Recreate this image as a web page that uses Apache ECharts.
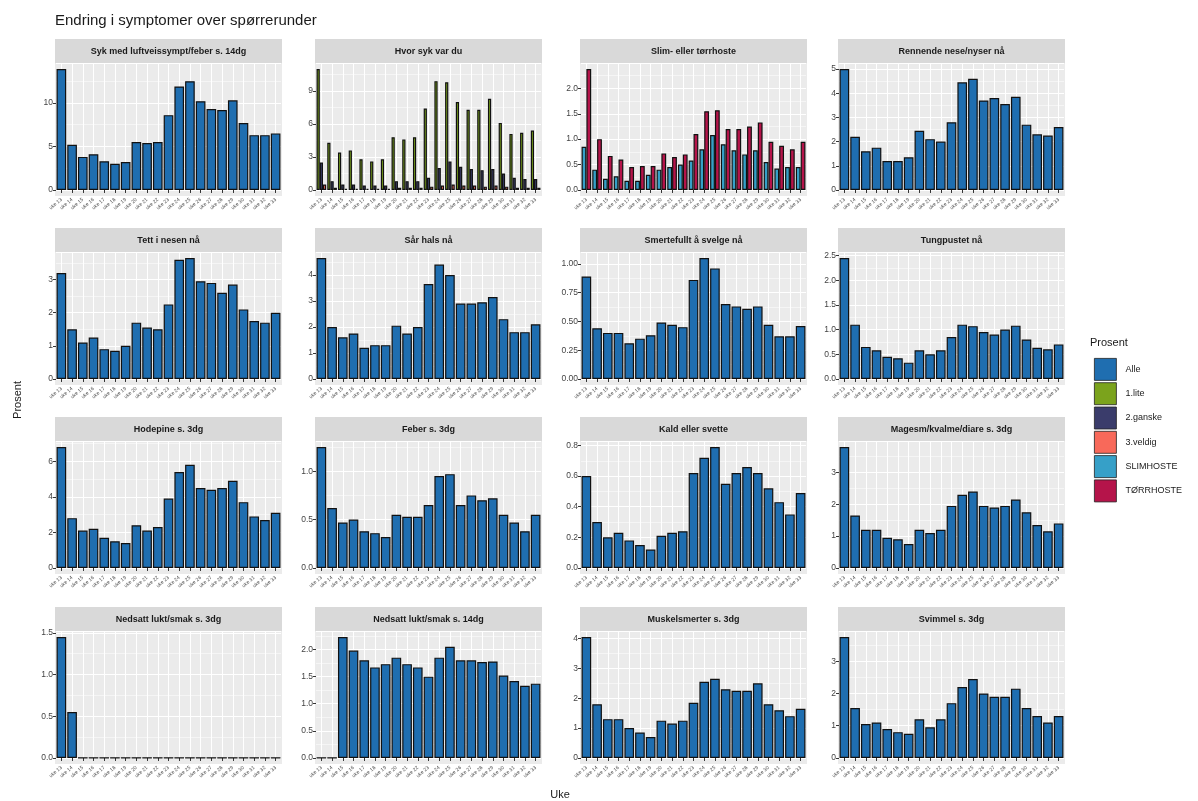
<!DOCTYPE html>
<html>
<head>
<meta charset="utf-8">
<script src="https://cdn.jsdelivr.net/npm/echarts@6/dist/echarts.min.js"></script>
<style>
  html, body { margin: 0; padding: 0; background: #fff; }
  #chart { width: 1198px; height: 801px; }
</style>
</head>
<body>
<div id="chart"></div>
<script>
// spørrerunder (x-axis categories)
const weeks = ["uke 13", "uke 14", "uke 15", "uke 16", "uke 17", "uke 18", "uke 19", "uke 20", "uke 21", "uke 22", "uke 23",
  "uke 24", "uke 25", "uke 26", "uke 27", "uke 28", "uke 29", "uke 30", "uke 31", "uke 32", "uke 33"];

// values, percent
const sykLuftvei = [13.9, 5.2, 3.8, 4.1, 3.3, 3.0, 3.2, 5.5, 5.4, 5.5, 8.6, 11.9, 12.5, 10.2, 9.3, 9.2, 10.3, 7.7, 6.3, 6.3, 6.5];
const lite = [11.0, 4.3, 3.4, 3.6, 2.8, 2.6, 2.8, 4.8, 4.6, 4.8, 7.4, 9.9, 9.8, 8.0, 7.3, 7.3, 8.3, 6.1, 5.1, 5.2, 5.4];
const ganske = [2.5, 0.8, 0.5, 0.5, 0.4, 0.4, 0.4, 0.8, 0.8, 0.8, 1.1, 2.0, 2.6, 2.1, 1.9, 1.8, 1.9, 1.5, 1.1, 1.0, 1.0];
const veldig = [0.5, 0.2, 0.1, 0.1, 0.1, 0.1, 0.1, 0.2, 0.2, 0.2, 0.3, 0.4, 0.5, 0.4, 0.4, 0.3, 0.4, 0.3, 0.2, 0.2, 0.2];
const slimhoste = [0.85, 0.40, 0.22, 0.27, 0.18, 0.18, 0.30, 0.40, 0.45, 0.50, 0.58, 0.80, 1.08, 0.90, 0.78, 0.70, 0.78, 0.55, 0.42, 0.45, 0.45];
const torrhoste = [2.38, 1.00, 0.67, 0.60, 0.45, 0.47, 0.47, 0.72, 0.65, 0.70, 1.10, 1.55, 1.57, 1.20, 1.20, 1.25, 1.33, 0.95, 0.87, 0.80, 0.95];
const rennendeNese = [5.0, 2.2, 1.6, 1.75, 1.2, 1.2, 1.35, 2.45, 2.1, 2.0, 2.8, 4.45, 4.6, 3.7, 3.8, 3.55, 3.85, 2.7, 2.3, 2.25, 2.6];
const tettNese = [3.2, 1.5, 1.1, 1.25, 0.9, 0.85, 1.0, 1.7, 1.55, 1.5, 2.25, 3.6, 3.65, 2.95, 2.9, 2.6, 2.85, 2.1, 1.75, 1.7, 2.0];
const saarHals = [4.65, 2.0, 1.6, 1.75, 1.2, 1.3, 1.3, 2.05, 1.75, 2.0, 3.65, 4.4, 4.0, 2.9, 2.9, 2.95, 3.15, 2.3, 1.8, 1.8, 2.1];
const svelge = [0.89, 0.44, 0.40, 0.40, 0.31, 0.35, 0.38, 0.49, 0.47, 0.45, 0.86, 1.05, 0.96, 0.65, 0.63, 0.61, 0.63, 0.47, 0.37, 0.37, 0.46];
const tungpustet = [2.45, 1.1, 0.65, 0.58, 0.45, 0.42, 0.33, 0.58, 0.5, 0.58, 0.85, 1.1, 1.07, 0.95, 0.9, 1.0, 1.08, 0.8, 0.63, 0.6, 0.7];
const hodepine = [6.8, 2.8, 2.1, 2.2, 1.7, 1.5, 1.4, 2.4, 2.1, 2.3, 3.9, 5.4, 5.8, 4.5, 4.4, 4.5, 4.9, 3.7, 2.9, 2.7, 3.1];
const feber = [1.25, 0.62, 0.47, 0.5, 0.38, 0.36, 0.32, 0.55, 0.53, 0.53, 0.65, 0.95, 0.97, 0.65, 0.75, 0.7, 0.72, 0.55, 0.47, 0.38, 0.55];
const kaldSvette = [0.6, 0.3, 0.2, 0.23, 0.18, 0.15, 0.12, 0.21, 0.23, 0.24, 0.62, 0.72, 0.79, 0.55, 0.62, 0.66, 0.62, 0.52, 0.43, 0.35, 0.49];
const mage = [3.8, 1.65, 1.2, 1.2, 0.95, 0.9, 0.75, 1.2, 1.1, 1.2, 1.95, 2.3, 2.4, 1.95, 1.9, 1.95, 2.15, 1.75, 1.35, 1.15, 1.4];
const luktSmak3 = [1.45, 0.55, 0, 0, 0, 0, 0, 0, 0, 0, 0, 0, 0, 0, 0, 0, 0, 0, 0, 0, 0];
const luktSmak14 = [0, 0, 2.23, 1.98, 1.8, 1.67, 1.73, 1.85, 1.73, 1.67, 1.5, 1.85, 2.05, 1.8, 1.8, 1.77, 1.78, 1.52, 1.42, 1.33, 1.37];
const muskel = [4.05, 1.8, 1.3, 1.3, 1.0, 0.85, 0.7, 1.25, 1.15, 1.25, 1.85, 2.55, 2.65, 2.3, 2.25, 2.25, 2.5, 1.8, 1.6, 1.4, 1.65];
const svimmel = [3.75, 1.55, 1.05, 1.1, 0.9, 0.8, 0.75, 1.2, 0.95, 1.2, 1.7, 2.2, 2.45, 2.0, 1.9, 1.9, 2.15, 1.55, 1.3, 1.1, 1.3];

// y tick steps and decimals per panel
const tickSteps = [5, 3, 0.5, 1, 1, 1, 0.25, 0.5, 2, 0.5, 0.2, 1, 0.5, 0.5, 1, 1];
const tickDecimals = [0, 0, 1, 0, 0, 0, 2, 1, 0, 1, 1, 0, 1, 1, 0, 0];

const colors = {
  "Alle": "#1F6EB0",
  "1.lite": "#7BA31C",
  "2.ganske": "#3A3C6B",
  "3.veldig": "#F8695A",
  "SLIMHOSTE": "#36A0C8",
  "TØRRHOSTE": "#B5144A"
};

const panels = [
  { title: "Syk med luftveissympt/feber s. 14dg", series: [["Alle", sykLuftvei]] },
  { title: "Hvor syk var du", series: [["1.lite", lite], ["2.ganske", ganske], ["3.veldig", veldig]] },
  { title: "Slim- eller tørrhoste", series: [["SLIMHOSTE", slimhoste], ["TØRRHOSTE", torrhoste]] },
  { title: "Rennende nese/nyser nå", series: [["Alle", rennendeNese]] },
  { title: "Tett i nesen nå", series: [["Alle", tettNese]] },
  { title: "Sår hals nå", series: [["Alle", saarHals]] },
  { title: "Smertefullt å svelge nå", series: [["Alle", svelge]] },
  { title: "Tungpustet nå", series: [["Alle", tungpustet]] },
  { title: "Hodepine s. 3dg", series: [["Alle", hodepine]] },
  { title: "Feber s. 3dg", series: [["Alle", feber]] },
  { title: "Kald eller svette", series: [["Alle", kaldSvette]] },
  { title: "Magesm/kvalme/diare s. 3dg", series: [["Alle", mage]] },
  { title: "Nedsatt lukt/smak s. 3dg", series: [["Alle", luktSmak3]] },
  { title: "Nedsatt lukt/smak s. 14dg", series: [["Alle", luktSmak14]] },
  { title: "Muskelsmerter s. 3dg", series: [["Alle", muskel]] },
  { title: "Svimmel s. 3dg", series: [["Alle", svimmel]] }
];

const FONT = '"Liberation Sans", Arial, sans-serif';
const colX = [55, 315, 580, 838];
const rowY = [39, 228, 417, 607];
const panelW = 227, stripH = 24, plotH = 133;
const below = plotH * 0.05 / 1.1;      // ggplot expansion under zero
const inset = panelW * 0.1 / 22.2;     // discrete expansion 0.6 vs 0.5

const grid = [], xAxis = [], yAxis = [], series = [];
const graphic = [];

panels.forEach((p, i) => {
  const x0 = colX[i % 4];
  const y0 = rowY[Math.floor(i / 4)];
  const dataMax = Math.max(...p.series.map(s => Math.max(...s[1])));

  graphic.push({
    type: "rect", silent: true, z: -20,
    shape: { x: x0, y: y0, width: panelW, height: stripH },
    style: { fill: "#D9D9D9" }
  });
  graphic.push({
    type: "text", silent: true, z: 50,
    x: x0 + panelW / 2, y: y0 + stripH / 2 + 1,
    style: { text: p.title, font: "bold 9px " + FONT, fill: "#1A1A1A", align: "center", verticalAlign: "middle" }
  });
  graphic.push({
    type: "rect", silent: true, z: -20,
    shape: { x: x0, y: y0 + stripH, width: panelW, height: plotH },
    style: { fill: "#EBEBEB" }
  });

  grid.push({
    left: x0 + inset,
    top: y0 + stripH,
    width: panelW - 2 * inset,
    height: plotH - below
  });

  xAxis.push({
    type: "category",
    gridIndex: i,
    data: weeks,
    boundaryGap: true,
    offset: below,
    axisLine: { show: false },
    axisTick: { show: true, alignWithLabel: true, length: 3, lineStyle: { color: "#333", width: 1 } },
    axisLabel: { interval: 0, rotate: 40, fontSize: 5, color: "#4D4D4D", margin: 3 },
    splitLine: { show: true, alignWithLabel: true, lineStyle: { color: "#fff", width: 1 } }
  });

  const dec = tickDecimals[i];
  yAxis.push({
    type: "value",
    gridIndex: i,
    min: 0,
    max: dataMax * 1.05,
    interval: tickSteps[i],
    axisLine: { show: false },
    axisTick: { show: true, length: 3, lineStyle: { color: "#333", width: 1 } },
    axisLabel: { fontSize: 8.5, color: "#444", margin: 3, showMaxLabel: false, formatter: v => v.toFixed(dec) },
    splitLine: { lineStyle: { color: "#fff", width: 1 } },
    minorTick: { show: false, splitNumber: 2 },
    minorSplitLine: { show: true, lineStyle: { color: "#fff", width: 0.5 } }
  });

  p.series.forEach(([name, data]) => {
    series.push({
      type: "bar",
      name,
      xAxisIndex: i,
      yAxisIndex: i,
      data,
      barCategoryGap: "10%",
      barGap: "0%",
      itemStyle: { color: colors[name], borderColor: "#111", borderWidth: 1.2 }
    });
  });
});

graphic.push({
  type: "text", silent: true,
  x: 18, y: 400, rotation: Math.PI / 2,
  style: { text: "Prosent", font: "11px " + FONT, fill: "#1A1A1A", align: "center", verticalAlign: "middle" }
});
graphic.push({
  type: "text", silent: true,
  x: 560, y: 795,
  style: { text: "Uke", font: "11px " + FONT, fill: "#1A1A1A", align: "center", verticalAlign: "middle" }
});

const chart = echarts.init(document.getElementById("chart"));
chart.setOption({
  animation: false,
  backgroundColor: "#fff",
  textStyle: { fontFamily: FONT },
  title: [
    { text: "Endring i symptomer over spørrerunder", left: 50, top: 8,
      textStyle: { fontSize: 15, fontWeight: "normal", color: "#1A1A1A", fontFamily: FONT } },
    { text: "Prosent", left: 1085, top: 332,
      textStyle: { fontSize: 11, fontWeight: "normal", color: "#1A1A1A", fontFamily: FONT } }
  ],
  legend: {
    orient: "vertical",
    left: 1089,
    top: 353,
    itemWidth: 22,
    itemHeight: 22,
    itemGap: 1.5,
    icon: "rect",
    selectedMode: false,
    data: Object.keys(colors),
    itemStyle: { borderColor: "#222", borderWidth: 0.8 },
    textStyle: { fontSize: 9, color: "#1A1A1A", padding: [0, 0, 0, 4] }
  },
  grid,
  xAxis,
  yAxis,
  series,
  graphic
});
</script>
</body>
</html>
